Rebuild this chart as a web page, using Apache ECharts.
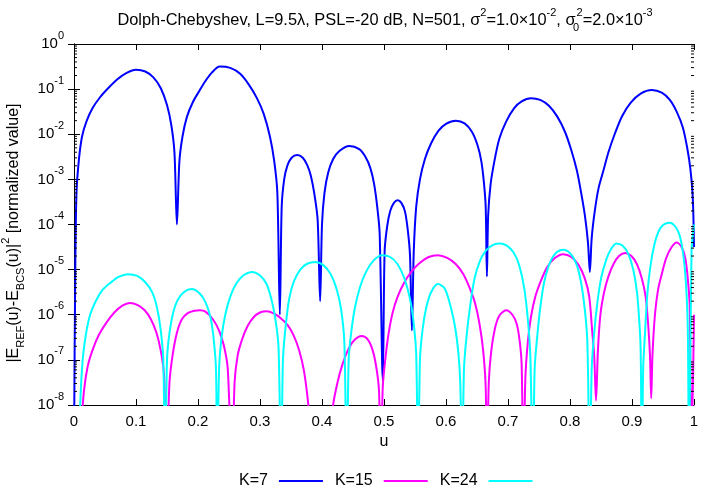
<!DOCTYPE html>
<html><head><meta charset="utf-8">
<script src="https://cdn.jsdelivr.net/npm/echarts@6/dist/echarts.min.js"></script>
<style>html,body{margin:0;padding:0;background:#fff}#c{width:701px;height:490px}</style>
</head><body><div id="c"></div>
<script>
const seriesNames = ['K=7', 'K=15', 'K=24'];
const seriesColors = ['#0000ff', '#ff00ff', '#00ffff'];

// Each point: [u, log10(value)]
const k7Points = [
 [0.000,-9],[0.002,-5.1],[0.004,-3.3],[0.008,-2.55],[0.013,-2.05],[0.020,-1.72],[0.030,-1.42],[0.042,-1.18],[0.055,-0.98],[0.070,-0.78],[0.085,-0.64],[0.100,-0.57],[0.115,-0.61],[0.128,-0.74],[0.140,-0.98],[0.150,-1.35],[0.157,-1.8],[0.162,-2.4],[0.166,-4.0],
 [0.170,-2.6],[0.175,-2.05],[0.182,-1.62],[0.192,-1.28],[0.203,-1.02],[0.212,-0.82],[0.222,-0.64],[0.235,-0.5],[0.252,-0.53],[0.268,-0.66],[0.282,-0.9],[0.295,-1.2],[0.306,-1.55],[0.316,-2.05],[0.323,-2.6],[0.328,-3.3],[0.332,-6.0],
 [0.335,-3.6],[0.339,-3.0],[0.344,-2.7],[0.351,-2.52],[0.360,-2.46],[0.369,-2.52],[0.376,-2.68],[0.382,-2.92],[0.388,-3.35],[0.393,-3.9],[0.397,-5.7],
 [0.400,-4.0],[0.404,-3.3],[0.410,-2.85],[0.418,-2.55],[0.428,-2.37],[0.444,-2.26],[0.460,-2.33],[0.470,-2.5],[0.478,-2.75],[0.484,-3.1],[0.489,-3.6],[0.493,-4.2],[0.498,-7.45],
 [0.501,-4.6],[0.505,-4.05],[0.510,-3.7],[0.516,-3.52],[0.522,-3.46],[0.528,-3.52],[0.534,-3.72],[0.539,-4.2],[0.542,-4.7],[0.545,-6.35],
 [0.548,-4.6],[0.552,-3.6],[0.558,-3.0],[0.566,-2.55],[0.576,-2.2],[0.588,-1.92],[0.600,-1.77],[0.616,-1.70],[0.630,-1.76],[0.642,-1.95],[0.651,-2.25],[0.657,-2.6],[0.661,-3.05],[0.664,-3.6],[0.666,-5.15],
 [0.668,-3.8],[0.672,-3.1],[0.678,-2.6],[0.686,-2.1],[0.697,-1.72],[0.710,-1.42],[0.722,-1.27],[0.737,-1.2],[0.752,-1.24],[0.766,-1.37],[0.780,-1.62],[0.792,-1.95],[0.802,-2.35],[0.811,-2.8],[0.818,-3.3],[0.824,-3.8],[0.829,-4.4],[0.832,-5.05],
 [0.835,-4.3],[0.840,-3.7],[0.846,-3.2],[0.853,-2.85],[0.862,-2.4],[0.872,-2.0],[0.884,-1.6],[0.898,-1.3],[0.914,-1.1],[0.932,-1.02],[0.948,-1.08],[0.961,-1.24],[0.972,-1.5],[0.982,-1.85],[0.989,-2.3],[0.994,-2.75],[0.998,-3.4],[1.000,-4.5]
];

const k15Points = [
 [0.008,-10],[0.012,-8.5],[0.016,-7.7],[0.022,-7.15],[0.030,-6.78],[0.040,-6.45],[0.052,-6.18],[0.065,-5.95],[0.078,-5.8],[0.090,-5.74],[0.102,-5.78],[0.114,-5.9],[0.124,-6.1],[0.133,-6.4],[0.140,-6.8],[0.145,-7.3],[0.150,-9],
 [0.154,-7.5],[0.159,-6.9],[0.166,-6.4],[0.174,-6.1],[0.184,-5.96],[0.194,-5.91],[0.203,-5.9],[0.212,-5.93],[0.224,-6.1],[0.234,-6.35],[0.242,-6.7],[0.248,-7.2],[0.255,-9.5],
 [0.259,-7.5],[0.264,-6.9],[0.271,-6.55],[0.280,-6.25],[0.290,-6.05],[0.300,-5.95],[0.311,-5.92],[0.322,-5.97],[0.333,-6.07],[0.344,-6.22],[0.354,-6.45],[0.363,-6.78],[0.371,-7.25],[0.378,-8.0],[0.388,-9.5],[0.398,-11],
 [0.408,-9.5],[0.418,-8.0],[0.425,-7.5],[0.433,-7.1],[0.443,-6.75],[0.453,-6.55],[0.464,-6.47],[0.474,-6.55],[0.482,-6.8],[0.488,-7.2],[0.492,-7.7],[0.495,-9.5],
 [0.498,-7.6],[0.502,-7.0],[0.507,-6.45],[0.514,-5.95],[0.522,-5.6],[0.532,-5.3],[0.544,-5.05],[0.558,-4.85],[0.572,-4.72],[0.587,-4.68],[0.602,-4.74],[0.616,-4.88],[0.628,-5.1],[0.638,-5.4],[0.647,-5.75],[0.654,-6.2],[0.660,-6.8],[0.664,-7.6],[0.666,-9.5],
 [0.669,-7.5],[0.673,-6.8],[0.679,-6.3],[0.686,-6.02],[0.697,-5.9],[0.707,-6.0],[0.714,-6.2],[0.719,-6.6],[0.722,-7.1],[0.725,-9.5],
 [0.728,-7.4],[0.732,-6.6],[0.737,-6.05],[0.744,-5.6],[0.753,-5.25],[0.763,-4.95],[0.775,-4.75],[0.789,-4.66],[0.802,-4.72],[0.814,-4.9],[0.824,-5.2],[0.831,-5.6],[0.836,-6.4],[0.839,-6.9],[0.842,-7.9],
 [0.845,-6.8],[0.849,-6.0],[0.855,-5.5],[0.862,-5.15],[0.870,-4.88],[0.879,-4.7],[0.889,-4.63],[0.899,-4.7],[0.908,-4.88],[0.916,-5.2],[0.922,-5.6],[0.926,-6.2],[0.929,-6.9],[0.931,-7.85],
 [0.933,-6.9],[0.937,-6.0],[0.942,-5.45],[0.948,-5.1],[0.955,-4.75],[0.963,-4.52],[0.972,-4.4],[0.980,-4.5],[0.986,-4.75],[0.990,-5.2],[0.993,-5.8],[0.996,-9],[1.000,-6.0]
];

const k24Points = [
 [0.006,-10],[0.010,-8.0],[0.014,-7.0],[0.019,-6.45],[0.026,-6.0],[0.035,-5.7],[0.046,-5.45],[0.058,-5.3],[0.072,-5.16],[0.087,-5.1],[0.102,-5.14],[0.115,-5.28],[0.126,-5.5],[0.134,-5.85],[0.140,-6.35],[0.144,-7.0],[0.147,-9.5],
 [0.150,-7.0],[0.154,-6.4],[0.160,-5.95],[0.167,-5.68],[0.177,-5.5],[0.190,-5.43],[0.202,-5.52],[0.212,-5.72],[0.220,-6.05],[0.225,-6.5],[0.229,-7.2],[0.231,-9.5],
 [0.234,-7.2],[0.238,-6.5],[0.244,-6.0],[0.252,-5.6],[0.262,-5.3],[0.274,-5.12],[0.287,-5.05],[0.300,-5.13],[0.311,-5.33],[0.320,-5.75],[0.326,-6.2],[0.330,-6.75],[0.334,-9.5],
 [0.337,-7.0],[0.341,-6.3],[0.347,-5.65],[0.355,-5.25],[0.365,-5.0],[0.376,-4.87],[0.389,-4.83],[0.402,-4.9],[0.414,-5.1],[0.424,-5.45],[0.431,-5.9],[0.436,-6.6],[0.440,-9.5],
 [0.443,-7.0],[0.447,-6.4],[0.453,-5.85],[0.461,-5.4],[0.471,-5.05],[0.483,-4.8],[0.497,-4.68],[0.510,-4.72],[0.522,-4.88],[0.533,-5.2],[0.542,-5.65],[0.548,-6.2],[0.552,-6.9],[0.555,-9.5],
 [0.558,-7.0],[0.562,-6.35],[0.568,-5.85],[0.576,-5.5],[0.587,-5.32],[0.598,-5.42],[0.608,-5.85],[0.615,-6.3],[0.620,-6.85],[0.623,-7.5],[0.626,-9.5],
 [0.629,-7.2],[0.633,-6.5],[0.639,-5.8],[0.646,-5.2],[0.655,-4.8],[0.665,-4.57],[0.676,-4.45],[0.687,-4.42],[0.698,-4.47],[0.709,-4.62],[0.718,-4.9],[0.726,-5.4],[0.732,-6.1],[0.736,-6.9],[0.740,-9.5],
 [0.743,-7.2],[0.747,-6.5],[0.752,-5.85],[0.758,-5.3],[0.766,-4.9],[0.776,-4.65],[0.789,-4.56],[0.801,-4.65],[0.811,-4.9],[0.818,-5.3],[0.824,-5.9],[0.828,-6.6],[0.832,-9.5],
 [0.835,-7.2],[0.839,-6.4],[0.844,-5.75],[0.850,-5.2],[0.858,-4.8],[0.866,-4.55],[0.875,-4.42],[0.885,-4.47],[0.894,-4.65],[0.902,-5.0],[0.908,-5.5],[0.912,-6.2],[0.914,-6.8],[0.916,-9.5],
 [0.918,-7.2],[0.921,-6.4],[0.925,-5.5],[0.930,-4.9],[0.936,-4.45],[0.943,-4.15],[0.951,-4.0],[0.961,-3.96],[0.970,-4.05],[0.977,-4.25],[0.983,-4.7],[0.987,-5.3],[0.990,-6.3],[0.992,-9.5],[0.996,-4.6],[1.000,-4.0]
];

const xTickValues = [0,0.1,0.2,0.3,0.4,0.5,0.6,0.7,0.8,0.9,1];
const yDecades = [-8,-7,-6,-5,-4,-3,-2,-1,0];
const minorMultipliers = [2,3,4,5,6,7,8,9];

const FONT = '"Liberation Sans", Arial, Helvetica, sans-serif';
function toData(points) { return points.map(p => [p[0], Math.pow(10, p[1])]); }

const minorTickData = [];
yDecades.slice(0, -1).forEach(e => minorMultipliers.forEach(m => minorTickData.push([0, m * Math.pow(10, e)])));

const chart = echarts.init(document.getElementById('c'), null, {renderer: 'canvas'});

const logAxisBase = {
  type: 'log', logBase: 10, min: 1e-8, max: 1, splitNumber: 8,
  axisLine: { show: true, lineStyle: { color: '#000', width: 1 } },
  axisTick: { show: true, inside: true, length: 6, lineStyle: { color: '#000' } },
  splitLine: { show: false }
};

function lineSeries(i, points) {
  return { name: seriesNames[i], type: 'line', data: toData(points), xAxisIndex: 0, yAxisIndex: 0,
    showSymbol: false, symbol: 'none', smooth: 0.3, clip: true, z: 3 + i,
    lineStyle: { color: seriesColors[i], width: 2 }, itemStyle: { color: seriesColors[i] } };
}

const option = {
  animation: false,
  backgroundColor: '#fff',
  textStyle: { fontFamily: FONT },
  title: {
    text: 'Dolph-Chebyshev, L=9.5λ, PSL=-20 dB, N=501, σ{sup|2}=1.0×10{sup|-2}, σ{subz|0}{sup|2}=2.0×10{sup|-3}',
    left: 380, top: 2, textAlign: 'center',
    textStyle: {
      fontSize: 16.4, fontWeight: 'normal', color: '#000', fontFamily: FONT, lineHeight: 26,
      rich: {
        sup: { fontSize: 11, verticalAlign: 'top', lineHeight: 13, fontFamily: FONT, color: '#000' },
        subz: { fontSize: 11, verticalAlign: 'bottom', lineHeight: 13, width: 1, fontFamily: FONT, color: '#000' }
      }
    }
  },
  legend: {
    data: seriesNames,
    left: 234, top: 468,
    align: 'right',
    icon: 'rect', itemWidth: 44, itemHeight: 2, itemGap: 12,
    textStyle: { fontSize: 16, color: '#000', fontFamily: FONT, padding: [0, 6, 0, 0] }
  },
  grid: { left: 74, right: 7, top: 44, bottom: 85, containLabel: false, outerBoundsMode: 'none' },
  xAxis: [{
    type: 'value', min: 0, max: 1, interval: 0.1,
    name: 'u', nameLocation: 'middle', nameGap: 29,
    nameTextStyle: { fontSize: 16, color: '#000', fontFamily: FONT },
    axisLine: { show: true, lineStyle: { color: '#000', width: 1 } },
    axisTick: { show: true, inside: true, length: 6, lineStyle: { color: '#000' } },
    axisLabel: { fontSize: 15, color: '#000', margin: 9, fontFamily: FONT,
      formatter: v => (Math.round(v * 10) / 10).toString() },
    splitLine: { show: false }
  }, {
    type: 'value', min: 0, max: 1, interval: 0.1, position: 'top',
    axisLine: { show: true, lineStyle: { color: '#000', width: 1 } },
    axisTick: { show: true, inside: true, length: 6, lineStyle: { color: '#000' } },
    axisLabel: { show: false }, splitLine: { show: false }
  }],
  yAxis: [Object.assign({}, logAxisBase, {
    name: '|E{sub|REF}(u)-E{sub|BCS}(u)|{sup|2} [normalized value]',
    nameLocation: 'middle', nameGap: 42, nameRotate: 90,
    nameTextStyle: { fontSize: 16, color: '#000', fontFamily: FONT, lineHeight: 26, padding: [0, 17, 0, 0],
      rich: {
        sub: { fontSize: 11, verticalAlign: 'bottom', lineHeight: 13, fontFamily: FONT, color: '#000' },
        sup: { fontSize: 11, verticalAlign: 'top', lineHeight: 13, fontFamily: FONT, color: '#000' }
      } },
    axisLabel: { fontSize: 15, color: '#000', margin: 10, fontFamily: FONT, lineHeight: 28,
      formatter: v => '10{sup|' + Math.round(Math.log10(v)) + '}',
      rich: { sup: { fontSize: 11, fontFamily: FONT, color: '#000', verticalAlign: 'top', lineHeight: 11 } } }
  }), Object.assign({}, logAxisBase, {
    position: 'right', axisLabel: { show: false }
  })],
  series: [
    lineSeries(0, k7Points),
    lineSeries(1, k15Points),
    lineSeries(2, k24Points),
    { type: 'custom', data: minorTickData, xAxisIndex: 0, yAxisIndex: 0, silent: true, clip: false, z: 10,
      renderItem: (params, api) => {
        const v = api.value(1);
        const pL = api.coord([0, v]);
        const pR = api.coord([1, v]);
        return { type: 'group', children: [
          { type: 'line', shape: { x1: pL[0], y1: pL[1], x2: pL[0] + 3, y2: pL[1] }, style: { stroke: '#000', lineWidth: 1 } },
          { type: 'line', shape: { x1: pR[0] - 3, y1: pR[1], x2: pR[0], y2: pR[1] }, style: { stroke: '#000', lineWidth: 1 } }
        ] };
      } }
  ]
};
chart.setOption(option);
</script></body></html>
